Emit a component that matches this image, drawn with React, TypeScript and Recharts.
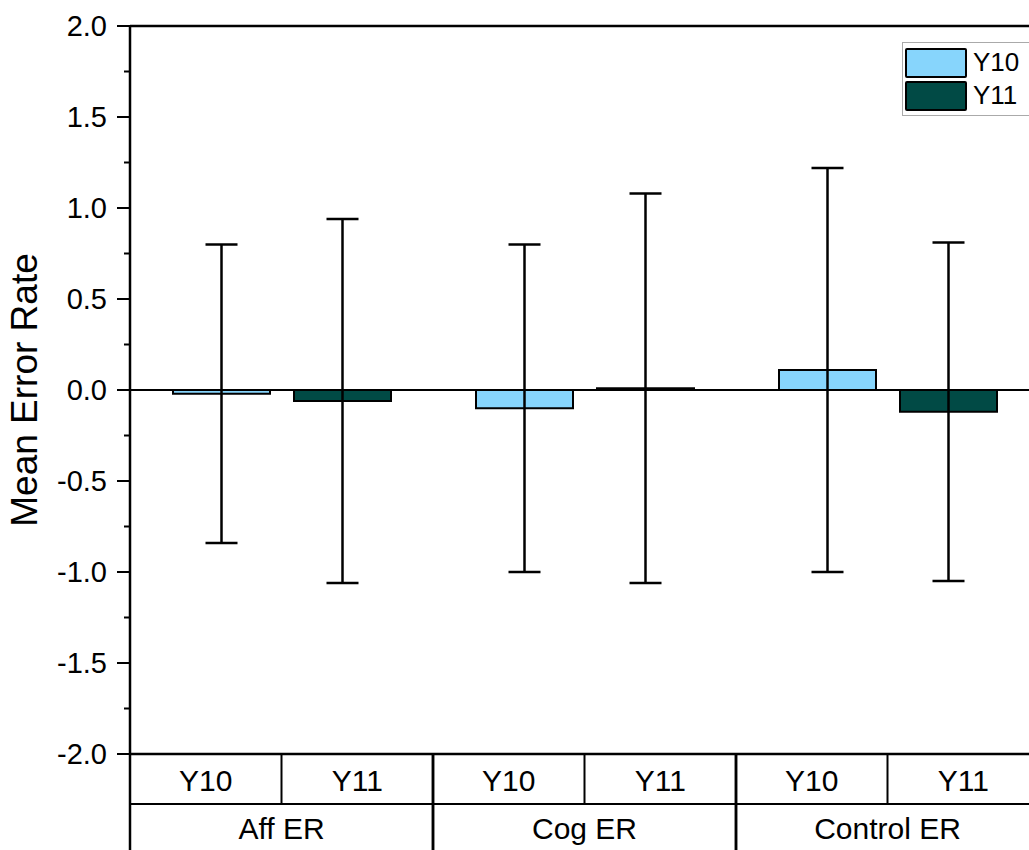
import { ComposedChart, Bar, XAxis, YAxis, ErrorBar, ReferenceLine } from 'recharts'

const categories = ['Aff ER', 'Cog ER', 'Control ER']
const seriesNames = ['Y10', 'Y11']
const y10Means = [-0.02, -0.1, 0.11]
const y11Means = [-0.06, 0.01, -0.12]
const y10Errors = [0.82, 0.9, 1.11]
const y11Errors = [1.0, 1.07, 0.93]
const majorTicks = [-2, -1.5, -1, -0.5, 0, 0.5, 1, 1.5, 2]
const minorTicks = [-1.75, -1.25, -0.75, -0.25, 0.25, 0.75, 1.25, 1.75]

const colors = ['#87D5FC', '#014A45']
const font = '"Liberation Sans", Arial, sans-serif'

const W = 1029
const H = 850
const Y_AXIS_W = 130
const MARGIN_RIGHT = -10
const PLOT_W = W - Y_AXIS_W - MARGIN_RIGHT
const ROW1 = 50
const ROW2 = 96

const data = categories.map((c, i) => ({
  group: c,
  y10: y10Means[i],
  y11: y11Means[i],
  y10Err: y10Errors[i],
  y11Err: y11Errors[i],
}))

const allTicks = [...majorTicks, ...minorTicks].sort((a, b) => a - b)

// eslint-disable-next-line @typescript-eslint/no-explicit-any
function YTick(props: any) {
  const { x, y, payload } = props
  const axisX = x + 23
  const major = majorTicks.includes(payload.value)
  return (
    <g>
      <line x1={axisX - (major ? 13 : 6)} x2={axisX} y1={y} y2={y} stroke="#000" strokeWidth={2} />
      {major && (
        <text x={x} y={y} textAnchor="end" dominantBaseline="central" fontSize={29} fontFamily={font} fill="#000">
          {payload.value.toFixed(1)}
        </text>
      )}
    </g>
  )
}

// eslint-disable-next-line @typescript-eslint/no-explicit-any
function XTick(props: any) {
  const { x, y, payload } = props
  const band = PLOT_W / categories.length
  const left = x - band / 2
  const right = x + band / 2
  return (
    <g>
      <line x1={x} x2={x} y1={y} y2={y + ROW1} stroke="#000" strokeWidth={2} />
      <line x1={left} x2={left} y1={y} y2={y + ROW2} stroke="#000" strokeWidth={2.5} />
      <line x1={right} x2={right} y1={y} y2={y + ROW2} stroke="#000" strokeWidth={2.5} />
      <line x1={left} x2={right} y1={y + ROW1} y2={y + ROW1} stroke="#000" strokeWidth={2} />
      {seriesNames.map((s, i) => (
        <text
          key={s}
          x={x + (i === 0 ? -band / 4 : band / 4)}
          y={y + ROW1 / 2 + 1}
          textAnchor="middle"
          dominantBaseline="central"
          fontSize={30}
          fontFamily={font}
          fill="#000"
        >
          {s}
        </text>
      ))}
      <text
        x={x}
        y={y + ROW1 + (ROW2 - ROW1) / 2 + 1}
        textAnchor="middle"
        dominantBaseline="central"
        fontSize={30}
        fontFamily={font}
        fill="#000"
      >
        {payload.value}
      </text>
    </g>
  )
}

function LegendBox() {
  return (
    <div
      style={{
        position: 'absolute',
        top: 42,
        left: 902,
        border: '1px solid #aaa',
        background: '#fff',
        padding: '3px 2px',
        width: 122,
        fontFamily: font,
      }}
    >
      {seriesNames.map((s, i) => (
        <div key={s} style={{ display: 'flex', alignItems: 'center', height: 33 }}>
          <div style={{ width: 58, height: 26, background: colors[i], border: '2px solid #000', borderRadius: 2 }} />
          <span style={{ fontSize: 26, marginLeft: 6, color: '#000' }}>{s}</span>
        </div>
      ))}
    </div>
  )
}

export default function App() {
  return (
    <div style={{ position: 'absolute', left: 0, top: 0, width: W, height: H, background: '#fff', fontFamily: font }}>
      <ComposedChart
        width={W}
        height={H}
        data={data}
        margin={{ top: 26, right: MARGIN_RIGHT, left: 0, bottom: 0 }}
        barSize={97}
        barGap={24}
      >
        <XAxis
          dataKey="group"
          height={ROW2}
          axisLine={{ stroke: '#000', strokeWidth: 2.5 }}
          tickLine={false}
          tickSize={0}
          tickMargin={0}
          interval={0}
          tick={<XTick />}
        />
        <YAxis
          width={Y_AXIS_W}
          domain={[-2, 2]}
          ticks={allTicks}
          interval={0}
          tickLine={false}
          tickSize={13}
          tickMargin={10}
          axisLine={{ stroke: '#000', strokeWidth: 2.5 }}
          tick={<YTick />}
          label={{
            value: 'Mean Error Rate',
            angle: -90,
            position: 'insideLeft',
            offset: 24,
            style: { textAnchor: 'middle', fontSize: 37, fontFamily: font, fill: '#000' },
          }}
        />
        <ReferenceLine y={2} stroke="#000" strokeWidth={2.5} />
        <Bar dataKey="y10" name={seriesNames[0]} fill={colors[0]} stroke="#000" strokeWidth={2} isAnimationActive={false}>
          <ErrorBar dataKey="y10Err" width={16} stroke="#000" strokeWidth={2.5} />
        </Bar>
        <Bar dataKey="y11" name={seriesNames[1]} fill={colors[1]} stroke="#000" strokeWidth={2} isAnimationActive={false}>
          <ErrorBar dataKey="y11Err" width={16} stroke="#000" strokeWidth={2.5} />
        </Bar>
        <ReferenceLine y={0} stroke="#000" strokeWidth={2} />
      </ComposedChart>
      <LegendBox />
    </div>
  )
}
